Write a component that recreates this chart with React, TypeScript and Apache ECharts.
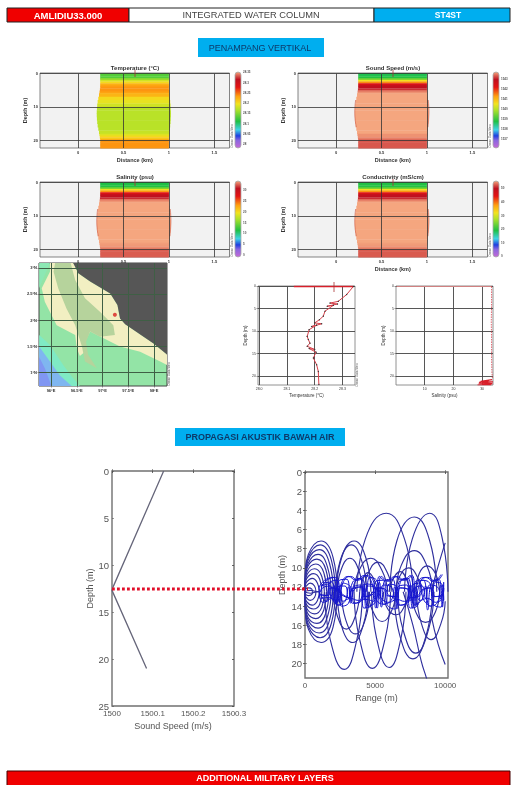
import React, { useEffect, useRef } from "react";
import * as echarts from "echarts";

// ---------- section data ----------
const depthEdges = [0, 0.5, 1, 1.5, 2, 2.5, 3, 3.5, 4, 4.5, 5, 5.5, 6, 7, 8, 9, 10, 11, 12, 13, 14, 15, 16, 17, 18, 18.5, 19, 19.5, 20, 20.5, 21, 21.5, 22.2];
const edgeLeft = [0.243, 0.243, 0.243, 0.243, 0.243, 0.243, 0.243, 0.243, 0.243, 0.24, 0.238, 0.235, 0.23, 0.222, 0.215, 0.21, 0.207, 0.205, 0.205, 0.207, 0.21, 0.215, 0.222, 0.23, 0.235, 0.238, 0.24, 0.243, 0.243, 0.243, 0.243, 0.243];
const edgeRight = [1, 1, 1, 1, 1, 1, 1, 1, 1, 1, 1.002, 1.004, 1.006, 1.01, 1.014, 1.018, 1.02, 1.022, 1.022, 1.02, 1.018, 1.014, 1.01, 1.006, 1.004, 1.002, 1, 1, 1, 1, 1, 1];
const temperatureRows = [28.13, 28.13, 28.13, 28.15, 28.18, 28.2, 28.22, 28.23, 28.235, 28.235, 28.235, 28.23, 28.22, 28.2, 28.19, 28.18, 28.17, 28.17, 28.17, 28.17, 28.17, 28.17, 28.17, 28.175, 28.185, 28.2, 28.21, 28.225, 28.235, 28.235, 28.235, 28.235];
const soundRows = [1538.7, 1538.7, 1538.8, 1539.3, 1540.5, 1541.4, 1542.3, 1542.8, 1542.9, 1543.1, 1543.4, 1543.6, 1543.7, 1543.7, 1543.7, 1543.7, 1543.7, 1543.7, 1543.7, 1543.7, 1543.7, 1543.7, 1543.7, 1543.7, 1543.6, 1543.6, 1543.5, 1543.4, 1543.3, 1543.3, 1543.3, 1543.3];
const salinityRows = [11.2, 11.2, 11.4, 13.5, 19.2, 23, 27, 29.5, 30.3, 31, 32.6, 33.4, 33.8, 33.8, 33.8, 33.8, 33.8, 33.8, 33.8, 33.8, 33.8, 33.8, 33.8, 33.8, 33.6, 33.5, 33.2, 32.8, 32.1, 32.1, 32.1, 32.1];
const conductivityRows = [18.9, 18.9, 19.2, 22, 31.7, 38, 44.5, 48.5, 49.6, 50.7, 53, 54.6, 55.2, 55.2, 55.2, 55.2, 55.2, 55.2, 55.2, 55.2, 55.2, 55.2, 55.2, 55.2, 54.9, 54.7, 54.2, 53.6, 52.4, 52.4, 52.4, 52.4];
const tempTicks = [28, 28.05, 28.1, 28.15, 28.2, 28.25, 28.3, 28.35];
const soundTicks = [1537, 1538, 1539, 1540, 1541, 1542, 1543];
const salinityTicks = [0, 5, 10, 15, 20, 25, 30];
const conductivityTicks = [0, 10, 20, 30, 40, 50];
const distanceTicks = [0, 0.5, 1, 1.5];

const rampStops = [0, 0.1, 0.16, 0.24, 0.35, 0.5, 0.58, 0.68, 0.8, 0.9, 1];
const rampColors = ["#c46ad6", "#8a66e0", "#1f3fe0", "#3fd4e6", "#1fc044", "#aee22a", "#f2e31f", "#ffa010", "#e41414", "#be1020", "#f5a67f"];

// ---------- map data (lon, lat) ----------
const mapLonTicks = [96, 96.5, 97, 97.5, 98];
const mapLatTicks = [1, 1.5, 2, 2.5, 3];
const landArea = [[96.43, 3.1], [98.26, 3.1], [98.26, 1.33], [97.99, 1.55], [97.44, 1.92], [97.34, 2.03], [97.29, 2.29], [97.15, 2.51], [96.76, 2.74], [96.53, 2.9]];
const shelfArea = [[95.98, 3.1], [96.43, 3.1], [96.53, 2.9], [96.76, 2.74], [97.15, 2.51], [97.29, 2.29], [97.34, 2.03], [97.44, 1.92], [97.99, 1.55], [98.26, 1.33], [98.26, 1.13], [98.12, 1.2], [97.73, 1.39], [97.34, 1.49], [97.02, 1.65], [96.76, 1.78], [96.66, 1.58], [96.66, 1.39], [96.56, 1.31], [96.5, 1.46], [96.47, 1.71], [96.11, 1.9], [95.88, 2.35], [95.82, 2.61], [95.98, 2.93]];
const midArea = [[96.08, 3.1], [96.38, 3.1], [96.47, 2.77], [96.66, 2.42], [96.95, 2.16], [97.21, 1.9], [97.24, 1.71], [96.95, 1.68], [96.76, 1.78], [96.68, 1.58], [96.72, 1.33], [96.89, 1.07], [96.66, 1.2], [96.6, 1.49], [96.53, 1.71], [96.47, 1.9], [96.3, 2.22], [96.14, 2.61], [96.05, 2.93]];
const tealArea = [[95.77, 1.71], [95.98, 1.52], [96.24, 1.13], [96.43, 0.88], [96.56, 0.73], [95.77, 0.73]];
const tealTopArea = [[95.77, 3.1], [95.98, 3.1], [95.85, 2.8], [95.77, 2.61]];
const blueArea = [[95.77, 1.49], [95.98, 1.2], [96.17, 0.94], [96.4, 0.73], [95.77, 0.73]];
const deepArea = [[95.77, 1.29], [95.88, 1.07], [96.01, 0.73], [95.77, 0.73]];
const stationPoint = [[97.24, 2.1]];

// ---------- station profiles ----------
const profileTempTicks = [28, 28.1, 28.2, 28.3];
const profileSalTicks = [10, 20, 30];
const profileDepthTicks = [0, 5, 10, 15, 20];
const surfaceTemp = [[28.125, 0.1], [28.339, 0.1]];
const tempProfile = [[28.339, 0.1], [28.315, 1.9], [28.285, 3.4], [28.255, 3.8], [28.282, 4], [28.245, 4.5], [28.267, 4.3], [28.237, 5.6], [28.231, 6.7], [28.217, 7.5], [28.2, 8.2], [28.225, 8.4], [28.189, 9], [28.207, 8.7], [28.18, 9.7], [28.173, 11.2], [28.177, 11.9], [28.183, 12.7], [28.173, 13.4], [28.2, 14.1], [28.18, 13.9], [28.205, 14.7], [28.195, 16], [28.207, 17.5], [28.213, 19], [28.215, 21.9]];
const surfaceSal = [[0.2, 0.1], [33.3, 0.1]];
const salProfile = [[33.3, 0.1], [33.3, 4], [33.2, 8], [33.3, 12], [33.3, 16], [33.4, 19], [33.6, 20.6]];
const salBottom = [[33.5, 20.8], [29.5, 21.2], [33.8, 21.3], [28.8, 21.6], [33.6, 21.7], [28.4, 22], [33.2, 22], [29, 21.4], [32.5, 20.9], [30, 21.8]];

// ---------- acoustic data ----------
const speedTicks = [1500, 1500.1, 1500.2, 1500.3];
const speedDepthTicks = [0, 5, 10, 15, 20, 25];
const speedProfile = [[1500.127, 0], [1500.003, 12.3], [1500, 12.7], [1500.085, 21]];
const rangeTicks = [0, 5000, 10000];
const rayDepthTicks = [0, 2, 4, 6, 8, 10, 12, 14, 16, 18, 20];

const fanRays = [
  [[0, 12.5], [30, 10.4], [240, 8.6], [1150, 7.2], [2000, 8.9], [2300, 12.5]],
  [[0, 12.5], [30, 10.5], [230, 8.9], [1080, 7.6], [1880, 9.2], [2160, 12.5]],
  [[0, 12.5], [30, 10.7], [220, 9.2], [1010, 8.1], [1760, 9.6], [2020, 12.5]],
  [[0, 12.5], [30, 10.9], [200, 9.6], [930, 8.6], [1620, 10], [1860, 12.5]],
  [[0, 12.5], [30, 11.1], [190, 9.9], [850, 9.1], [1490, 10.2], [1700, 12.5]],
  [[0, 12.5], [30, 11.3], [170, 10.3], [770, 9.6], [1340, 10.5], [1540, 12.5]],
  [[0, 12.5], [30, 11.5], [150, 10.7], [690, 10.1], [1200, 10.9], [1380, 12.5]],
  [[0, 12.5], [30, 11.7], [130, 11.1], [600, 10.6], [1050, 11.2], [1200, 12.5]],
  [[0, 12.5], [30, 11.9], [110, 11.5], [510, 11.1], [890, 11.6], [1020, 12.5]],
  [[0, 12.5], [25, 12.1], [90, 11.9], [380, 11.6], [680, 11.9], [780, 12.5]],
  [[0, 12.5], [20, 12.3], [70, 12.2], [260, 12.1], [470, 12.2], [540, 12.5]],
  [[0, 12.5], [150, 12.4], [400, 12.35], [700, 12.45], [1000, 12.5]],
  [[0, 12.5], [150, 12.6], [400, 12.65], [700, 12.55], [1000, 12.5]],
  [[0, 12.5], [30, 14.6], [240, 16.4], [1150, 17.8], [2000, 16.2], [2300, 12.5]],
  [[0, 12.5], [30, 14.5], [230, 16.1], [1080, 17.3], [1880, 15.8], [2160, 12.5]],
  [[0, 12.5], [30, 14.3], [220, 15.8], [1010, 16.8], [1760, 15.4], [2020, 12.5]],
  [[0, 12.5], [30, 14.1], [200, 15.4], [930, 16.3], [1620, 15], [1860, 12.5]],
  [[0, 12.5], [30, 13.9], [190, 15.1], [850, 15.8], [1490, 14.7], [1700, 12.5]],
  [[0, 12.5], [30, 13.7], [170, 14.7], [770, 15.3], [1340, 14.4], [1540, 12.5]],
  [[0, 12.5], [30, 13.5], [150, 14.3], [690, 14.8], [1200, 14.1], [1380, 12.5]],
  [[0, 12.5], [30, 13.3], [130, 13.9], [600, 14.3], [1050, 13.8], [1200, 12.5]],
  [[0, 12.5], [30, 13.1], [110, 13.5], [510, 13.9], [890, 13.4], [1020, 12.5]],
  [[0, 12.5], [25, 12.9], [90, 13.1], [380, 13.4], [680, 13.1], [780, 12.5]],
  [[0, 12.5], [20, 12.7], [70, 12.8], [260, 12.9], [470, 12.8], [540, 12.5]],
];
const upperLobes = [
  [[2250, 12.5], [2600, 9], [3500, 7.2], [4350, 9], [4700, 12.5]],
  [[2200, 12.5], [2500, 9.3], [3300, 7.6], [4050, 9.3], [4400, 12.5]],
  [[2300, 12.5], [2550, 10.3], [3200, 9], [3850, 10.3], [4100, 12.5]],
  [[3700, 12.5], [4300, 7], [5800, 4.3], [7100, 7], [7700, 12.5]],
  [[6050, 12.5], [6550, 7.2], [7800, 4.7], [8900, 7.2], [9400, 12.5]],
  [[7100, 12.5], [7650, 7], [8900, 4.3], [9800, 7], [10200, 12.5]],
  [[3500, 12.5], [3850, 10.3], [4700, 9], [5500, 10.3], [5900, 12.5]],
  [[4200, 12.5], [4500, 10.6], [5200, 9.4], [5900, 10.6], [6200, 12.5]],
  [[6500, 12.5], [6850, 9.8], [7800, 8.2], [8700, 9.8], [9100, 12.5]],
  [[7900, 12.5], [8150, 10.6], [8700, 9.8], [9300, 10.6], [9600, 12.5]],
  [[6500, 12.5], [6750, 10.9], [7400, 10], [8000, 10.9], [8300, 12.5]],
  [[3900, 12.5], [4100, 11.3], [4500, 10.5], [4950, 11.3], [5200, 12.5]],
  [[6000, 12.5], [6200, 11.4], [6800, 10.4], [7300, 11.4], [7500, 12.5]],
  [[9000, 12.5], [9500, 9.8], [10000, 7.4]],
];
const lowerLobes = [
  [[1400, 12.5], [1800, 17.5], [2800, 20.6], [3700, 17.5], [4100, 12.5]],
  [[3500, 12.5], [3900, 17.5], [4800, 20.5], [5700, 17.5], [6100, 12.5]],
  [[4750, 12.5], [5100, 17.3], [6000, 20.4], [6850, 17.3], [7200, 12.5]],
  [[2300, 12.5], [2600, 16], [3400, 17.8], [4150, 16], [4500, 12.5]],
  [[2600, 12.5], [2900, 15.4], [3600, 16.9], [4300, 15.4], [4600, 12.5]],
  [[2000, 12.5], [2300, 15], [2950, 16.4], [3600, 15], [3900, 12.5]],
  [[6350, 12.5], [6750, 17], [7700, 19.5], [8650, 17], [9100, 12.5]],
  [[6600, 12.5], [7000, 16.5], [7900, 18.9], [8800, 16.5], [9200, 12.5]],
  [[7950, 12.5], [8300, 15.8], [9000, 17.5], [9700, 15.8], [10000, 13.5]],
  [[7600, 12.5], [7900, 14.6], [8600, 15.7], [9300, 14.6], [9600, 12.5]],
  [[4500, 12.5], [4800, 14.4], [5500, 15.6], [6200, 14.4], [6500, 12.5]],
  [[5600, 12.5], [5800, 14], [6500, 14.9], [7100, 14], [7400, 12.5]],
  [[7000, 12.5], [7700, 16], [8300, 19.8], [8700, 21.7], [8900, 23]],
  [[9000, 15], [9500, 18], [10000, 20.1]],
];
const bandRangesA = [1000, 1250, 1500, 1800, 2050, 2300, 2600, 2850, 3100, 3400, 3650, 3950, 4200, 4500, 4750, 5050, 5300, 5600, 5850, 6150, 6400, 6700, 6950, 7250, 7500, 7800, 8050, 8350, 8600, 8900, 9150, 9450, 9700, 9880];
const bandRangesB = [1150, 1350, 1650, 1900, 2200, 2450, 2700, 3000, 3250, 3550, 3800, 4050, 4350, 4600, 4900, 5150, 5450, 5700, 6000, 6250, 6550, 6800, 7100, 7350, 7650, 7900, 8200, 8450, 8750, 9000, 9300, 9550, 9800, 9900];
const bandDepthsA = [12.5, 11.6, 13.5, 11.5, 13.8, 11.3, 14, 11.2, 13.7, 11.5, 14, 11.1, 14.2, 11, 13.9, 11.4, 14.1, 11.3, 13.8, 11.2, 14.3, 11.5, 14, 11.1, 14.2, 11.4, 13.9, 11.3, 14.4, 11.6, 13.8, 11.2, 14.1, 11.5];
const bandDepthsB = [13.2, 12.1, 13.1, 11.9, 13.4, 12, 13.5, 11.9, 13.2, 12.1, 13.4, 11.8, 13.3, 11.9, 13.5, 12.1, 13.2, 11.8, 13.6, 12, 13.3, 11.9, 13.5, 11.8, 13.3, 12.1, 13.4, 11.9, 13.2, 11.8, 13.6, 12, 13.3, 11.9];
const bandDepthsC = [11.9, 13.6, 11.7, 13.2, 11.8, 13.9, 11.6, 13.5, 12, 13.7, 11.4, 13.4, 11.7, 14, 11.8, 13.5, 11.5, 13.8, 11.7, 13.4, 12, 13.9, 11.5, 13.6, 11.8, 13.8, 11.6, 13.3, 11.9, 14, 11.5, 13.6, 11.8, 13.4];
const bandDepthsD = [12.8, 12.2, 12.9, 12.1, 13, 12.3, 12.8, 12.1, 13.1, 12.2, 12.9, 12, 13, 12.3, 12.7, 12.1, 13.1, 12.2, 12.9, 12.3, 13, 12.1, 12.8, 12.2, 13.1, 12, 12.9, 12.3, 12.8, 12.1, 13, 12.2, 12.9, 12.1];
const bandDepthsE = [12, 14.3, 11.2, 14.5, 11, 13.6, 11.6, 14.4, 10.9, 14, 11.3, 14.6, 10.8, 13.8, 11.5, 14.2, 10.9, 14.5, 11.4, 13.7, 10.9, 14.3, 11.3, 14.7, 10.8, 14, 11.5, 14.4, 11, 13.8, 11.4, 14.6, 10.7, 14.1];

const RAY_BLUE = "#30309e";
const AXIS_TEXT = "#333";
const SERIF_FREE = "'Liberation Sans', Arial, sans-serif";

function colorAt(t: number): string {
  const c = Math.max(0, Math.min(1, t));
  for (let i = 1; i < rampStops.length; i++) {
    if (c <= rampStops[i]) {
      const f = (c - rampStops[i - 1]) / (rampStops[i] - rampStops[i - 1]);
      return echarts.color.lerp(f, [rampColors[i - 1], rampColors[i]]) as string;
    }
  }
  return rampColors[rampColors.length - 1];
}

export default function App() {
  const ref = useRef<HTMLDivElement>(null);
  useEffect(() => {
    const chart = echarts.init(ref.current!, null, { renderer: "svg" });
    const grids: any[] = [];
    const xAxes: any[] = [];
    const yAxes: any[] = [];
    const series: any[] = [];
    const texts: any[] = [];

    const label = (text: string, x: number, y: number, o: any = {}) => {
      texts.push({
        type: "text",
        x,
        y,
        z: 20,
        rotation: o.rotation || 0,
        style: {
          text,
          fontSize: o.size || 4.5,
          fontWeight: o.weight || "normal",
          fontFamily: o.family || SERIF_FREE,
          fill: o.color || AXIS_TEXT,
          align: o.align || "center",
          verticalAlign: "middle",
        },
      });
    };
    const box = (x: number, y: number, w: number, h: number, fill: string, stroke = "none") => {
      texts.push({ type: "rect", z: 1, shape: { x, y, width: w, height: h }, style: { fill, stroke, lineWidth: 1 } });
    };
    const stub = (x: number, y1: number, y2: number, color: string) => {
      texts.push({ type: "line", z: 19, shape: { x1: x, y1, x2: x, y2 }, style: { stroke: color, lineWidth: 0.8 } });
    };

    const panel = (o: any) => {
      const idx = grids.length;
      grids.push({
        left: o.left, top: o.top, width: o.width, height: o.height, show: true,
        backgroundColor: o.bg || "#fff", borderColor: o.border || "#666", borderWidth: o.borderWidth ?? 0.8,
      });
      const common = (vals: number[], size: number, fmt: any) => ({
        axisTick: { show: true, inside: !!o.insideTicks, length: o.tickLen ?? 1.5, customValues: vals, lineStyle: { color: "#555", width: 0.6 } },
        axisLabel: {
          show: true, fontSize: size, color: o.labelColor || AXIS_TEXT, margin: o.labelMargin ?? 2,
          fontFamily: SERIF_FREE, fontWeight: o.labelWeight || "normal", customValues: vals,
          formatter: fmt,
        },
        axisLine: { show: false },
        splitLine: { show: o.split !== false, lineStyle: { color: o.splitColor || "#333", width: o.splitWidth ?? 0.8 } },
        nameTextStyle: { fontSize: o.nameSize || 5.5, color: o.nameColor || AXIS_TEXT, fontWeight: o.nameWeight || "bold", fontFamily: SERIF_FREE },
      });
      xAxes.push({
        type: "value", gridIndex: idx, min: o.xMin, max: o.xMax, z: 5,
        name: o.xName, nameLocation: "middle", nameGap: o.xNameGap ?? 8,
        ...common(o.xVals, o.xLabelSize || o.labelSize || 4, o.xFmt || ((v: number) => String(v))),
      });
      yAxes.push({
        type: "value", gridIndex: idx, min: o.yMin, max: o.yMax, inverse: o.inverse !== false, z: 5,
        name: o.yName, nameLocation: "middle", nameGap: o.yNameGap ?? 12, nameRotate: 90,
        ...common(o.yVals, o.labelSize || 4, o.yFmt || ((v: number) => String(v))),
      });
      return idx;
    };

    const section = (o: any) => {
      const i = panel({
        left: o.left, top: o.top, width: 189.5, height: 75, bg: "#f2f2f2",
        xMin: -0.42, xMax: 1.667, yMin: 0, yMax: 22.2, xVals: distanceTicks, yVals: [0, 10, 20],
        yName: "Depth (m)", yNameGap: 12, labelWeight: "bold",
        xName: o.hideX ? undefined : "Distance (km)", xNameGap: 9,
      });
      const span = o.vMax - o.vMin;
      series.push({
        type: "custom", xAxisIndex: i, yAxisIndex: i, z: 2, silent: true,
        data: o.rows.map((v: number, r: number) => [edgeLeft[r], edgeRight[r], depthEdges[r], depthEdges[r + 1], v]),
        encode: { x: [0, 1], y: [2, 3] },
        renderItem: (_: any, api: any) => {
          const a = api.coord([api.value(0), api.value(2)]);
          const b = api.coord([api.value(1), api.value(3)]);
          return {
            type: "rect",
            shape: { x: a[0], y: a[1], width: b[0] - a[0], height: b[1] - a[1] + 0.4 },
            style: { fill: colorAt((api.value(4) - o.vMin) / span) },
          };
        },
      });
      if (o.rim) {
        const lines = [edgeLeft, edgeRight].map((edge) =>
          edge.map((x, r) => [x, depthEdges[r]]).slice(14, 23)
        );
        lines.forEach((d) =>
          series.push({ type: "line", xAxisIndex: i, yAxisIndex: i, data: d, showSymbol: false, silent: true, z: 3, lineStyle: { color: "#cf5a44", width: 0.6 } })
        );
      }
      // colour bar
      const c = panel({
        left: o.left + 195, top: o.top - 1, width: 6, height: 76, border: "transparent", borderWidth: 0,
        xMin: 0, xMax: 1, yMin: o.vMin, yMax: o.vMax, inverse: false, xVals: [], yVals: o.ticks, split: false, labelSize: 3, labelWeight: "bold",
        labelColor: "#555", tickLen: 0,
      });
      yAxes[c].position = "right";
      xAxes[c].axisLabel.show = false;
      series.push({
        type: "custom", xAxisIndex: c, yAxisIndex: c, z: 2, silent: true, data: [[0, o.vMin, 1, o.vMax]],
        encode: { x: [0, 2], y: [1, 3] },
        renderItem: (_: any, api: any) => {
          const a = api.coord([api.value(0), api.value(3)]);
          const b = api.coord([api.value(2), api.value(1)]);
          return {
            type: "rect",
            shape: { x: a[0], y: a[1], width: b[0] - a[0], height: b[1] - a[1], r: 3 },
            style: {
              fill: new echarts.graphic.LinearGradient(0, 1, 0, 0, rampStops.map((s, k) => ({ offset: s, color: rampColors[k] }))),
              stroke: "#aaa", lineWidth: 0.8,
            },
          };
        },
      });
      label(o.title, o.left + 95, o.top - 5.5, { size: 6, weight: "bold" });
      stub(o.left + 95, o.top - 3, o.top + 4, "#a33");
      label("Ocean Data View", o.left + 192, o.top + 63, { size: 3, rotation: Math.PI / 2, color: "#666" });
    };

    // --- headers
    box(7, 8, 122, 14, "#f00000", "#222");
    box(129, 8, 245, 14, "#fff", "#222");
    box(374, 8, 136, 14, "#00aeef", "#222");
    label("AMLIDIU33.000", 68, 15, { size: 9.5, weight: "bold", color: "#fff" });
    label("INTEGRATED WATER COLUMN", 251, 15, { size: 9.3, color: "#444" });
    label("ST4ST", 448, 15, { size: 8.5, weight: "bold", color: "#fff" });
    box(198, 38, 126, 19, "#00aeef");
    label("PENAMPANG VERTIKAL", 260, 48, { size: 9, color: "#0d3a6a" });
    box(175, 428, 170, 18, "#00aeef");
    label("PROPAGASI AKUSTIK BAWAH AIR", 260, 437, { size: 9, weight: "bold", color: "#0d3a6a" });
    box(7, 771, 503, 16, "#f00000", "#400");
    label("ADDITIONAL MILITARY LAYERS", 265, 778, { size: 9, weight: "bold", color: "#fff" });

    // --- sections
    section({ left: 40, top: 73, title: "Temperature (°C)", rows: temperatureRows, vMin: 27.98, vMax: 28.35, ticks: tempTicks });
    section({ left: 298, top: 73, title: "Sound Speed (m/s)", rows: soundRows, vMin: 1536.1, vMax: 1543.7, ticks: soundTicks, rim: true });
    section({ left: 40, top: 182, title: "Salinity (psu)", rows: salinityRows, vMin: -0.9, vMax: 33.8, ticks: salinityTicks, rim: true, hideX: true });
    section({ left: 298, top: 182, title: "Conductivity (mS/cm)", rows: conductivityRows, vMin: -0.7, vMax: 55.2, ticks: conductivityTicks, rim: true });

    // --- map
    const m = panel({
      left: 39, top: 263, width: 128, height: 123, bg: "#93e4a6", border: "#444", borderWidth: 1,
      xMin: 95.767, xMax: 98.252, yMin: 0.731, yMax: 3.096, inverse: false, xVals: mapLonTicks, yVals: mapLatTicks,
      xFmt: (v: number) => v + "°E", yFmt: (v: number) => v + "°N", splitColor: "#3f5f45", splitWidth: 1, labelSize: 4, labelWeight: "bold",
    });
    const regions: [number[][], string][] = [
      [tealArea, "#7feac4"], [tealTopArea, "#8ce8b4"], [blueArea, "#7fb6f0"], [deepArea, "#8096f2"],
      [shelfArea, "#f2efc2"], [midArea, "#b6d39c"], [landArea, "#565656"],
    ];
    regions.forEach(([pts, fill]) =>
      series.push({
        type: "custom", xAxisIndex: m, yAxisIndex: m, z: 2, silent: true, data: pts, encode: { x: 0, y: 1 }, clip: true,
        renderItem: (p: any, api: any) =>
          p.dataIndex === 0
            ? { type: "polygon", shape: { points: pts.map((q) => api.coord(q)) }, style: { fill } }
            : null,
      })
    );
    series.push({ type: "scatter", xAxisIndex: m, yAxisIndex: m, data: stationPoint, symbolSize: 4, z: 8, silent: true, itemStyle: { color: "#d8201f" } });
    label("Ocean Data View", 169, 374, { size: 3, rotation: Math.PI / 2, color: "#555" });

    // --- station profiles
    const profileBase = {
      top: 286, width: 97, height: 99, yMin: 0, yMax: 22, yVals: profileDepthTicks, yName: "Depth (m)", yNameGap: 10,
      nameWeight: "normal", nameSize: 4.5, labelSize: 3.5, splitColor: "#444", splitWidth: 0.9, border: "#777",
    };
    const t = panel({ ...profileBase, left: 258, xMin: 27.996, xMax: 28.345, xVals: profileTempTicks, xName: "Temperature (°C)", xNameGap: 8, xFmt: (v: number) => (v === 28 ? "28.0" : String(v)) });
    series.push({ type: "line", xAxisIndex: t, yAxisIndex: t, data: surfaceTemp, showSymbol: false, z: 7, silent: true, lineStyle: { color: "#d81f2a", width: 1.5 } });
    series.push({ type: "line", xAxisIndex: t, yAxisIndex: t, data: tempProfile, symbol: "circle", symbolSize: 1.3, z: 7, silent: true, itemStyle: { color: "#333" }, lineStyle: { color: "#d8404a", width: 1 } });
    stub(334, 282, 292, "#a33");
    label("Ocean Data View", 357, 375, { size: 3, rotation: Math.PI / 2, color: "#666" });

    const s = panel({ ...profileBase, left: 396, xMin: 0, xMax: 33.8, xVals: profileSalTicks, xName: "Salinity (psu)", xNameGap: 8 });
    series.push({ type: "line", xAxisIndex: s, yAxisIndex: s, data: surfaceSal, showSymbol: false, z: 7, silent: true, lineStyle: { color: "#e88a8a", width: 0.9 } });
    series.push({ type: "line", xAxisIndex: s, yAxisIndex: s, data: salProfile, showSymbol: false, z: 7, silent: true, lineStyle: { color: "#d8404a", width: 0.8, type: [1.5, 1] } });
    series.push({ type: "line", xAxisIndex: s, yAxisIndex: s, data: salBottom, showSymbol: false, z: 7, silent: true, lineStyle: { color: "#d81f2a", width: 1.1 } });

    // --- acoustic
    const acoustic = { labelSize: 9.5, xLabelSize: 8, labelColor: "#555", nameSize: 9, nameColor: "#555", nameWeight: "normal", split: false, insideTicks: true, tickLen: 2, border: "#707070", borderWidth: 1.4, labelMargin: 3 };
    const a = panel({
      ...acoustic, left: 112, top: 471, width: 122, height: 235, xMin: 1500, xMax: 1500.3, yMin: 0, yMax: 25,
      xVals: speedTicks, yVals: speedDepthTicks, xName: "Sound Speed (m/s)", xNameGap: 15, yName: "Depth (m)", yNameGap: 14,
    });
    series.push({ type: "line", xAxisIndex: a, yAxisIndex: a, data: speedProfile, showSymbol: false, silent: true, lineStyle: { color: "#66667a", width: 1.3 } });

    const r = panel({
      ...acoustic, left: 305, top: 472, width: 143, height: 206, xMin: 0, xMax: 10200, yMin: 0, yMax: 21.5,
      xVals: rangeTicks, yVals: rayDepthTicks, xName: "Range (m)", xNameGap: 15, yName: "Depth (m)", yNameGap: 19,
    });
    const addRay = (d: number[][], color = RAY_BLUE, width = 1.15) =>
      series.push({ type: "line", xAxisIndex: r, yAxisIndex: r, data: d, showSymbol: false, silent: true, smooth: 0.5, clip: true, lineStyle: { color, width } });
    [...fanRays, ...upperLobes, ...lowerLobes].forEach((d) => addRay(d));
    const bandSets: [number[], number[]][] = [[bandRangesA, bandDepthsA], [bandRangesB, bandDepthsB], [bandRangesA, bandDepthsC], [bandRangesB, bandDepthsD], [bandRangesB, bandDepthsE], [bandRangesA, bandDepthsB], [bandRangesB, bandDepthsC], [bandRangesA, bandDepthsE], [bandRangesB, bandDepthsA], [bandRangesA, bandDepthsD]];
    bandSets.forEach(([rs, ds], k) => {
      const pts = rs.map((x, i) => [x, ds[i]]);
      // Most rays keep only some turning points, so the band reads as long diagonals rather than upright stripes.
      const keep = k % 3 === 0 ? pts.filter((_, i) => i % 3 !== 1) : k % 3 === 1 ? pts.filter((_, i) => i % 2 === 0 || i % 5 === 0) : pts.filter((_, i) => i % 4 !== 2);
      addRay(keep, "#1515cf", 1);
    });

    // extra tick-only axes on the top and right edges of both acoustic panels
    [[a, speedTicks, speedDepthTicks, 1500, 1500.3, 0, 25], [r, rangeTicks, rayDepthTicks, 0, 10200, 0, 21.5]].forEach(([g, xv, yv, x0, x1, y0, y1]: any) => {
      const tick = (vals: number[]) => ({ show: true, inside: true, length: 2, customValues: vals, lineStyle: { color: "#444", width: 0.8 } });
      xAxes.push({ type: "value", gridIndex: g, position: "top", min: x0, max: x1, axisTick: tick(xv), axisLabel: { show: false }, axisLine: { show: false }, splitLine: { show: false } });
      yAxes.push({ type: "value", gridIndex: g, position: "right", inverse: true, min: y0, max: y1, axisTick: tick(yv), axisLabel: { show: false }, axisLine: { show: false }, splitLine: { show: false } });
    });

    texts.push({ type: "line", z: 22, shape: { x1: 112, y1: 589, x2: 308, y2: 589 }, style: { stroke: "#e0102a", lineWidth: 2.8, lineDash: [2.8, 2.2] } });

    chart.setOption({
      animation: false,
      grid: grids,
      xAxis: xAxes,
      yAxis: yAxes,
      series,
      graphic: { elements: texts },
    });
    return () => chart.dispose();
  }, []);
  return (
    <div
      ref={ref}
      style={{ position: "absolute", left: 0, top: 0, width: 513, height: 785, background: "#fff", filter: "blur(0.7px)", overflow: "hidden" }}
    />
  );
}
